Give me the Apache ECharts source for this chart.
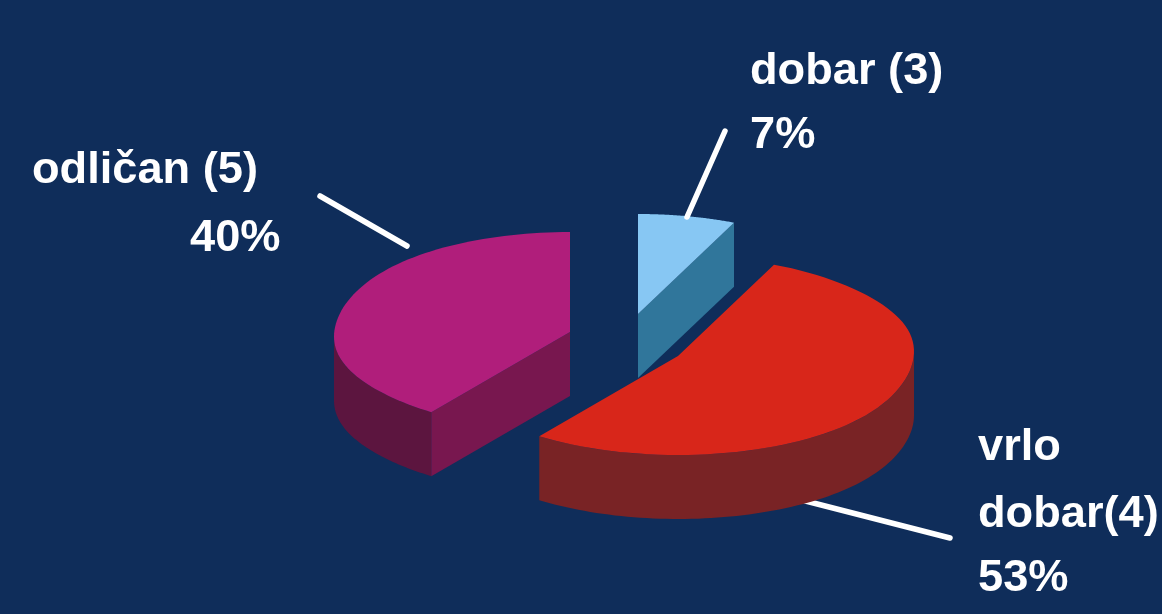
<!DOCTYPE html>
<html lang="en">
<head>
<meta charset="utf-8" />
<title>Ocjene</title>
<style>
  html, body { margin: 0; padding: 0; background: #0f2d5a; }
  #chart { width: 1162px; height: 614px; }
</style>
</head>
<body>
<div id="chart"></div>
<script src="https://cdn.jsdelivr.net/npm/echarts@6/dist/echarts.min.js"></script>
<script>
// data, clockwise from 12 o'clock
var gradeLabels = [['dobar (3)'], ['vrlo', 'dobar(4)'], ['odli\u010dan (5)']];
var gradeCounts = [2, 16, 12];

// colours per slice
var topColors = ['#87c7f3', '#d8261a', '#b01e7b'];
var wallColors = ['#30769b', '#792325', '#5c153f'];
var cutColors = ['#30769b', '#792325', '#78174f'];

// page layout per slice (exploded centre, leader line, text lines)
var centers = [[638, 314], [678, 356], [570, 332]];
var leaders = [
  [[725, 131], [687, 217]],
  [[950, 538], [790, 497]],
  [[320, 196], [407, 246]]
];
var textPos = [
  [[750, 72], [750, 136]],
  [[978, 448], [978, 515], [978, 579]],
  [[32, 171], [190, 239]]
];
var radiusX = 236, radiusBack = 100, radiusFront = 99, depth = 64;
var rimLift = 4.5;    // perspective: right end of the rim sits higher, left end lower
var labelFont = 'bold 45.2px "Liberation Sans", Arial, sans-serif';

var total = gradeCounts.reduce(function (a, b) { return a + b; }, 0);

// point on the ellipse, angle in radians clockwise from the top
function rim(c, t, dy) {
  var s = Math.sin(t), cosT = Math.cos(t);
  var y = -(cosT > 0 ? radiusBack : radiusFront) * cosT;
  return [c[0] + radiusX * s, c[1] + y - rimLift * s * Math.pow(Math.abs(s), 7) + (dy || 0)];
}

function arcPoints(c, a0, a1, dy) {
  var pts = [], steps = 80;
  for (var i = 0; i <= steps; i++) {
    pts.push(rim(c, a0 + (a1 - a0) * i / steps, dy));
  }
  return pts;
}

function poly(points, color, z2) {
  return { type: 'polygon', z2: z2, shape: { points: points }, style: { fill: color } };
}

function renderSlice(params, api) {
  var i = params.dataIndex;
  var before = 0;
  for (var k = 0; k < i; k++) before += gradeCounts[k];
  var a0 = before / total * Math.PI * 2;
  var a1 = (before + api.value(0)) / total * Math.PI * 2;
  var c = centers[i];
  var base = i === 1 ? 20 : 10;
  var children = [];

  // leader line, the red one runs behind its slice
  children.push({
    type: 'line', z2: i === 1 ? 1 : 40,
    shape: { x1: leaders[i][0][0], y1: leaders[i][0][1], x2: leaders[i][1][0], y2: leaders[i][1][1] },
    style: { stroke: '#ffffff', lineWidth: 5.5, lineCap: 'round' }
  });

  // outer wall, only the front half of the rim shows
  var w0 = Math.max(a0, Math.PI / 2), w1 = Math.min(a1, Math.PI * 1.5);
  if (w1 > w0) {
    var wall = arcPoints(c, w0, w1, 0).concat(arcPoints(c, w1, w0, depth));
    children.push(poly(wall, wallColors[i], base));
  }

  // cut faces turned toward the viewer
  [[a1, Math.sin(a1) > 0.001], [a0, Math.sin(a0) < -0.001]].forEach(function (f) {
    if (!f[1]) return;
    var e = rim(c, f[0], 0);
    children.push(poly([c, e, [e[0], e[1] + depth], [c[0], c[1] + depth]], cutColors[i], base + 1));
  });

  // top face
  children.push(poly([c].concat(arcPoints(c, a0, a1, 0)), topColors[i], base + 2));

  // text: name lines, then the share
  var lines = gradeLabels[i].concat([Math.round(api.value(0) / total * 100) + '%']);
  lines.forEach(function (t, n) {
    children.push({
      type: 'text', z2: 50,
      style: {
        text: t, x: textPos[i][n][0], y: textPos[i][n][1],
        fill: '#ffffff', font: labelFont, align: 'left', verticalAlign: 'middle'
      }
    });
  });

  return { type: 'group', children: children };
}

var chart = echarts.init(document.getElementById('chart'));
chart.setOption({
  backgroundColor: '#0f2d5a',
  animation: false,
  series: [{
    type: 'custom',
    coordinateSystem: 'none',
    silent: true,
    renderItem: renderSlice,
    data: gradeCounts.map(function (v) { return [v]; })
  }]
});
</script>
</body>
</html>
